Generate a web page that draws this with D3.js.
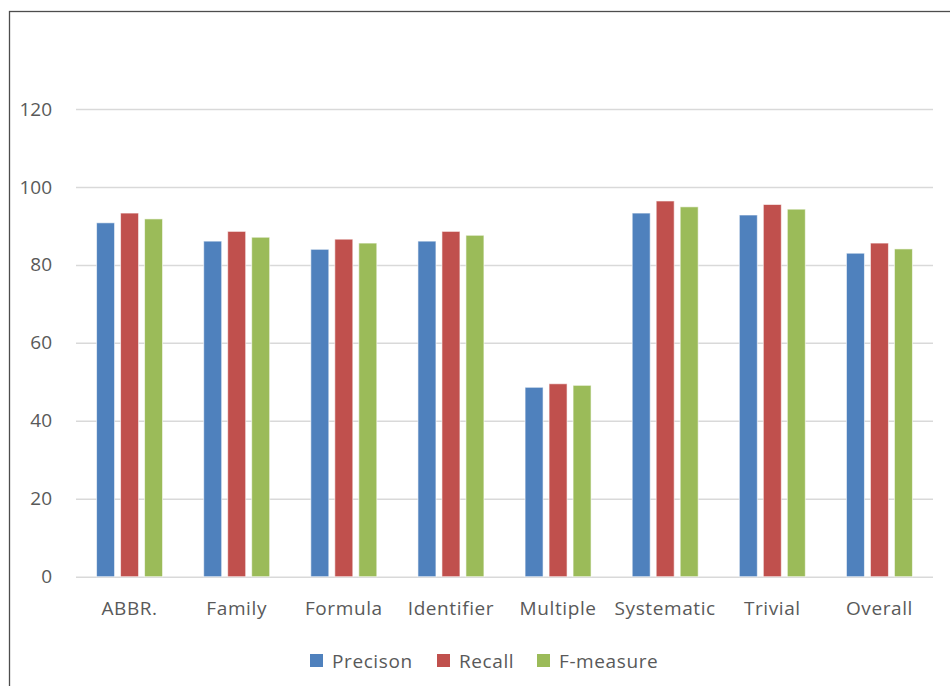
<!DOCTYPE html>
<html>
<head>
<meta charset="utf-8">
<script src="https://cdn.jsdelivr.net/npm/d3@7"></script>
<style>
  html, body { margin: 0; padding: 0; background: #fff; }
  svg { display: block; }
  text { font-family: "Open Sans", "DejaVu Sans", sans-serif; fill: #595959; }
</style>
</head>
<body>
<svg id="chart" width="950" height="686"></svg>
<script>
// Category labels along the x axis
const categories = ["ABBR.", "Family", "Formula", "Identifier", "Multiple", "Systematic", "Trivial", "Overall"];
// Series names (legend)
const seriesNames = ["Precison", "Recall", "F-measure"];
// Values per series, one per category
const precision = [90.8, 86.1, 84.0, 86.1, 48.6, 93.3, 92.8, 83.0];
const recall    = [93.3, 88.6, 86.6, 88.6, 49.5, 96.4, 95.5, 85.6];
const fmeasure  = [91.8, 87.1, 85.6, 87.6, 49.1, 94.9, 94.3, 84.1];
// Y axis ticks
const yTicks = [0, 20, 40, 60, 80, 100, 120];

const seriesValues = [precision, recall, fmeasure];
const colors = ["#4F81BD", "#C0504D", "#9BBB59"];

const svg = d3.select("#chart");

// Outer chart frame
svg.append("rect")
  .attr("x", 9.5).attr("y", 11.5)
  .attr("width", 1000).attr("height", 1000)
  .attr("fill", "none")
  .attr("stroke", "#4d4d4d")
  .attr("stroke-width", 1.3);

const plot = { left: 76, right: 933, top: 109, bottom: 576.7 };

const y = d3.scaleLinear().domain([0, 120]).range([plot.bottom, plot.top]);

const x0 = d3.scaleBand()
  .domain(categories)
  .range([plot.left, plot.right])
  .paddingInner(0.328)
  .paddingOuter(0.164);

const x1 = d3.scaleBand()
  .domain(seriesNames)
  .range([0, x0.bandwidth()])
  .paddingInner(0.25)
  .paddingOuter(0.125);

// Horizontal gridlines with tick labels
const yAxis = d3.axisLeft(y)
  .tickValues(yTicks)
  .tickSize(-(plot.right - plot.left))
  .tickPadding(24)
  .tickFormat(d3.format("d"));

const gy = svg.append("g")
  .attr("transform", `translate(${plot.left},0)`)
  .call(yAxis);
gy.select(".domain").remove();
gy.selectAll(".tick line").attr("stroke", "#d9d9d9").attr("stroke-width", 1.5);
gy.selectAll(".tick text")
  .attr("font-size", 19)
  .attr("fill", "#595959")
  .attr("font-family", "'Open Sans', 'DejaVu Sans', sans-serif");

// Bars
const groups = svg.append("g").selectAll("g")
  .data(categories)
  .join("g")
  .attr("transform", d => `translate(${x0(d)},0)`);

groups.selectAll("rect")
  .data((c, i) => seriesNames.map((s, k) => ({ s, v: seriesValues[k][i], k })))
  .join("rect")
  .attr("x", d => x1(d.s))
  .attr("y", d => y(d.v))
  .attr("width", x1.bandwidth())
  .attr("height", d => y(0) - y(d.v))
  .attr("fill", d => colors[d.k])
  .attr("stroke", "#ffffff")
  .attr("stroke-opacity", 0.6)
  .attr("stroke-width", 1);

// Category axis labels
const xAxis = d3.axisBottom(x0).tickSize(0).tickPadding(0);
const gx = svg.append("g")
  .attr("transform", `translate(0,${plot.bottom})`)
  .call(xAxis);
gx.select(".domain").remove();
gx.selectAll(".tick text")
  .attr("y", 38)
  .attr("dy", 0)
  .attr("font-size", 19)
  .attr("letter-spacing", 0.6)
  .attr("fill", "#595959")
  .attr("font-family", "'Open Sans', 'DejaVu Sans', sans-serif");

// Legend
const legendItems = [
  { name: seriesNames[0], x: 310 },
  { name: seriesNames[1], x: 437 },
  { name: seriesNames[2], x: 537 }
];
const legend = svg.append("g");
legendItems.forEach((it, k) => {
  legend.append("rect")
    .attr("x", it.x).attr("y", 654)
    .attr("width", 13).attr("height", 13)
    .attr("fill", colors[k]);
  legend.append("text")
    .attr("x", it.x + 22).attr("y", 661)
    .attr("dy", "0.35em")
    .attr("font-size", 19)
    .attr("letter-spacing", 0.6)
    .text(it.name);
});
</script>
</body>
</html>
